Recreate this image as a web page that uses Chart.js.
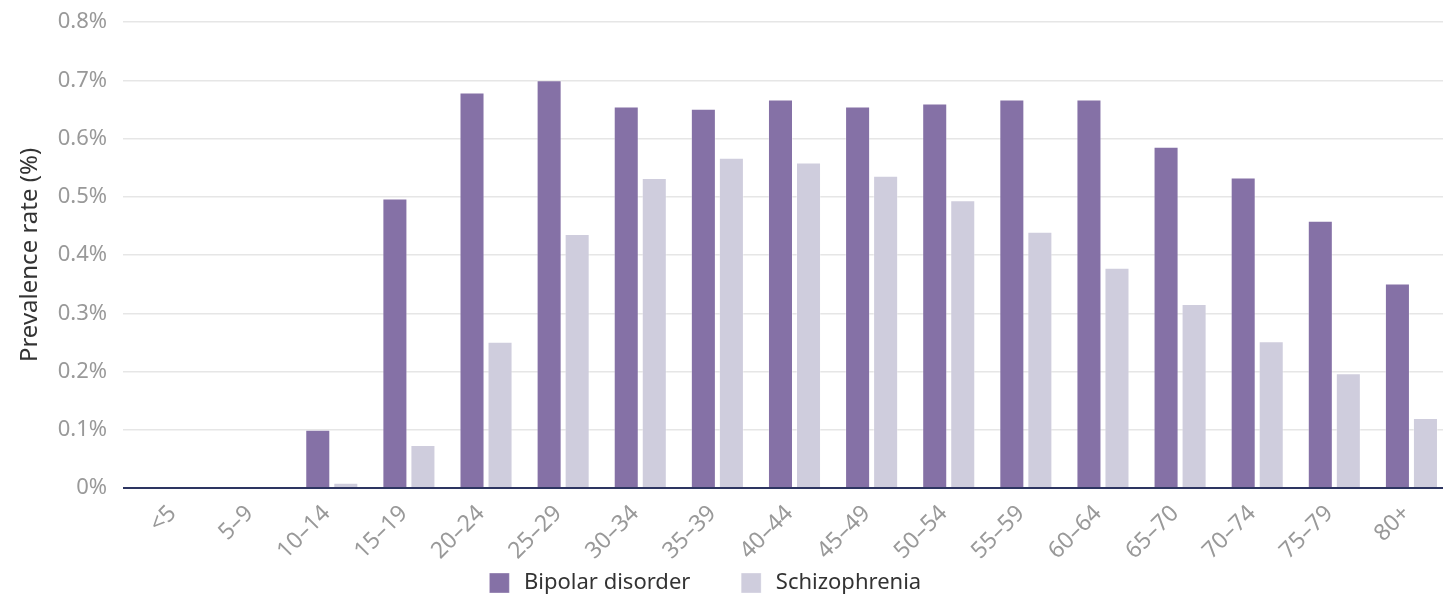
<!DOCTYPE html>
<html>
<head>
<meta charset="utf-8">
<script src="https://cdn.jsdelivr.net/npm/chart.js@4"></script>
<style>
  html, body { margin: 0; padding: 0; background: #fff; overflow: hidden; }
  #wrap { position: absolute; left: 0; top: 0; width: 1450px; height: 599px; }
</style>
</head>
<body>
<div id="wrap"><canvas id="prevChart"></canvas></div>
<script>
// age groups and prevalence (%)
const ageGroups = ['<5', '5–9', '10–14', '15–19', '20–24', '25–29', '30–34', '35–39', '40–44',
  '45–49', '50–54', '55–59', '60–64', '65–70', '70–74', '75–79', '80+'];
const bipolar = [0, 0, 0.10, 0.497, 0.679, 0.700, 0.655, 0.651, 0.667, 0.655, 0.660, 0.667, 0.667, 0.586, 0.533, 0.459, 0.351];
const schizophrenia = [0, 0, 0.009, 0.074, 0.251, 0.436, 0.532, 0.567, 0.559, 0.536, 0.494, 0.440, 0.378, 0.316, 0.252, 0.197, 0.120];
const yTicks = [0, 0.1, 0.2, 0.3, 0.4, 0.5, 0.6, 0.7, 0.8];

const FONT = '"Noto Sans", sans-serif';
// trailing spaces per legend entry, used only to space the items out
const legendGap = [8, 9];

const ctx = document.getElementById('prevChart').getContext('2d');
new Chart(ctx, {
  type: 'bar',
  data: {
    labels: ageGroups,
    datasets: [{
      label: 'Bipolar disorder',
      data: bipolar,
      backgroundColor: '#8571a6',
      borderColor: 'rgba(255,255,255,0.35)',
      borderWidth: 1
    }, {
      label: 'Schizophrenia',
      data: schizophrenia,
      backgroundColor: '#cfcddd',
      borderColor: 'rgba(255,255,255,0.35)',
      borderWidth: 1
    }]
  },
  options: {
    responsive: true,
    maintainAspectRatio: false,
    animation: false,
    datasets: { bar: { categoryPercentage: 0.727, barPercentage: 0.893 } },
    layout: { padding: { left: 12, right: 0, top: 22, bottom: 0 } },
    plugins: {
      legend: {
        position: 'bottom',
        maxHeight: 32,
        labels: {
          boxWidth: 20, boxHeight: 20, padding: 5,
          color: '#333', font: { family: FONT, size: 22, lineHeight: 1 },
          generateLabels(chart) {
            const items = Chart.defaults.plugins.legend.labels.generateLabels(chart);
            items.forEach((it, i) => { it.text = '\u2009' + it.text + ' '.repeat(legendGap[i]); });
            return items;
          }
        }
      },
      tooltip: { enabled: false }
    },
    scales: {
      x: {
        grid: { display: false },
        border: { display: true, color: '#2d3561', width: 2 },
        ticks: {
          minRotation: 45, maxRotation: 45, padding: 4, labelOffset: -5,
          color: '#999', font: { family: FONT, size: 23 }
        },
        afterFit(scale) { scale.height = 79; }
      },
      y: {
        min: 0, max: 0.8,
        afterBuildTicks(scale) { scale.ticks = yTicks.map(v => ({ value: v })); },
        afterFit(scale) { scale.width = 127; scale.paddingTop = 0; scale.paddingBottom = 0; },
        border: { display: false },
        grid: {
          tickLength: 16,
          color: c => c.tick && c.tick.value === 0 ? '#2d3561' : '#e6e6e6',
          lineWidth: c => c.tick && c.tick.value === 0 ? 2 : 1.5
        },
        ticks: {
          padding: 16, color: '#999', font: { family: FONT, size: 22 },
          callback: v => v === 0 ? '0%' : v.toFixed(1) + '%'
        },
        title: {
          display: true, text: 'Prevalence rate (%)',
          color: '#333', font: { family: FONT, size: 24 }
        }
      }
    }
  }
});
</script>
</body>
</html>
